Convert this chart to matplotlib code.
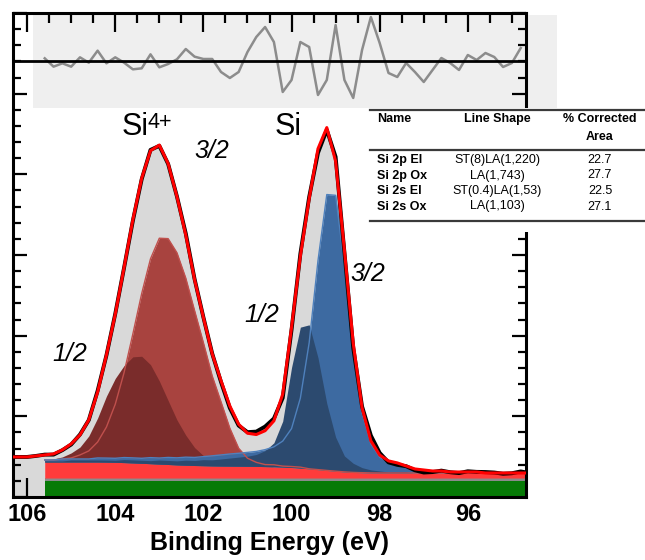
import numpy as np
import matplotlib
matplotlib.use('Agg')
import matplotlib.pyplot as plt
from matplotlib.patches import Rectangle
from matplotlib.lines import Line2D
from matplotlib.ticker import MultipleLocator

plt.rcParams['font.family'] = ['Liberation Sans', 'DejaVu Sans']

# binding energy grid (eV), 0.2 eV steps, high BE on the left
be = np.linspace(106.4, 94.6, 60)

# Shirley background (CPS)
background = np.array([868] * 11 + [865, 860, 853, 845, 835, 826, 816, 806, 796, 788,
                                    781, 776, 771, 768, 766, 764, 761, 759, 754, 749,
                                    741, 731, 716, 699, 679, 659, 640, 622, 610, 603, 597]
                      + [595] * 18)

# fitted components above the background (CPS)
ox32 = np.array([25, 25, 25, 50, 50, 50, 75, 100, 175, 275, 495, 870, 1440, 2230, 3200,
                 4210, 5080, 5600, 5600, 5260, 4640, 3840, 3050, 2230, 1590, 940, 445,
                 200, 100, 50, 50, 25, 25, 25] + [0] * 26)
ox12 = np.array([25, 25, 25, 25, 50, 75, 125, 225, 370, 645, 1090, 1635, 2080, 2405, 2630,
                 2655, 2455, 2060, 1585, 1115, 745, 445, 250, 150, 75, 50, 50, 25, 25, 25]
                + [0] * 30)
el32 = np.array([50, 50, 50, 50, 50, 50, 75, 75, 75, 75, 100, 100, 100, 125, 125, 125, 150,
                 150, 175, 175, 200, 200, 225, 250, 275, 300, 320, 345, 370, 420, 495, 645,
                 965, 1735, 3125, 5180, 6840, 6840, 5105, 2975, 1485, 720, 395, 275, 225,
                 150, 100, 75, 50, 50, 25, 25, 25, 25, 0, 0, 0, 0, 0, 0])
el12 = np.array([25, 25, 25, 25, 25, 25, 25, 50, 50, 50, 50, 50, 50, 75, 75, 75, 75, 100,
                 100, 100, 125, 125, 150, 150, 175, 200, 225, 250, 295, 395, 595, 1140,
                 2480, 3495, 3570, 2775, 1660, 845, 395, 225, 125, 75, 50, 25, 25, 25]
                + [0] * 14)

# residual (data - fit) over the fitted region 105.6 .. 94.8 eV
residual = np.array([8, -17, -7, -17, 11, -5, 31, -7, 11, -5, -25, -22, 20, -19, -9,
                     5, 36, 13, 6, 6, -33, -51, -33, 27, 72, 102, 57, -93, -57, 57,
                     42, -102, -57, 108, -57, -111, 33, 132, 54, -36, -48, -6, -33, -63, -27,
                     9, -6, -27, 18, 3, 24, 12, -18, -6, 39])

names = ['Si 2p El', 'Si 2p Ox', 'Si 2s El', 'Si 2s Ox']
shapes = ['ST(8)LA(1,220)', 'LA(1,743)', 'ST(0.4)LA(1,53)', 'LA(1,103)']
areas = [22.7, 27.7, 22.5, 27.1]

fit = background + ox32 + ox12 + el32 + el12
counts = fit.astype(float)
counts[4:59] += residual
inside = be <= 105.61

W, H = 645, 560
fig = plt.figure(figsize=(W / 100, H / 100), dpi=100)
ax = fig.add_axes([13 / W, 63 / H, 513 / W, 484 / H])
ax.set_xlim(106.32, 94.68)
ax.set_ylim(0, 12000)

# envelope, offset bands and components
ax.fill_between(be, 0, counts, color='#d9d9d9', lw=0, zorder=1)
ax.fill_between(be, 0, 400, where=inside, color='#067a06', lw=0, zorder=2)
ax.fill_between(be, 400, 470, where=inside, color='#8a8a8a', lw=0, zorder=2)
ax.fill_between(be, 470, background, where=inside, color='#ff3b3b', lw=0, zorder=2)
for comp, face in [(ox32, '#a8433f'), (ox12, '#7a2c2b'), (el32, '#3d6aa1'), (el12, '#2c4a6f')]:
    ax.fill_between(be, background, background + comp, where=inside, color=face, lw=0, zorder=3)
ax.plot(be[inside], (background + ox32)[inside], color='#c0504d', lw=1, zorder=4)
ax.plot(be[inside], (background + el32)[inside], color='#4f81bd', lw=1, zorder=4)
ax.plot(be, counts, color='black', lw=2.8, zorder=5)
ax.plot(be, fit, color='red', lw=2.2, zorder=6)

# residual strip at the top
res_zero, res_gain = 10810, 8.26
ax.add_patch(Rectangle((0.039, 0.8037), 1.0214, 0.1922, transform=ax.transAxes,
                       facecolor='#efefef', edgecolor='none', clip_on=False, zorder=0.5))
ax.plot(be[4:59], res_zero + residual * res_gain, color='#8c8c8c', lw=1.8, zorder=5)
ax.axhline(res_zero, color='black', lw=2, zorder=5)

# peak labels
ax.text(103.85, 8974, 'Si', fontsize=22, ha='left', va='baseline', zorder=7)
ax.text(103.26, 9148, '4+', fontsize=15.5, ha='left', va='baseline', zorder=7)
ax.text(100.38, 8974, 'Si', fontsize=22, ha='left', va='baseline', zorder=7)
for x, y, s in [(105.03, 3545, '1/2'), (101.80, 8577, '3/2'),
                (100.67, 4512, '1/2'), (98.27, 5528, '3/2')]:
    ax.text(x, y, s, fontsize=18, style='italic', ha='center', va='center', zorder=7)

# axes styling
ax.xaxis.set_major_locator(MultipleLocator(2))
ax.xaxis.set_minor_locator(MultipleLocator(0.5))
ax.yaxis.set_major_locator(MultipleLocator(2000))
ax.yaxis.set_minor_locator(MultipleLocator(400))
ax.tick_params(which='both', direction='in', top=True, right=True, width=1.6, color='black')
ax.tick_params(axis='x', which='major', length=14, labelsize=17, pad=4)
ax.tick_params(axis='x', which='minor', length=7)
ax.tick_params(axis='y', which='major', length=10, labelleft=False)
ax.tick_params(axis='y', which='minor', length=5.5)
for lab in ax.get_xticklabels():
    lab.set_fontweight('bold')
for sp in ax.spines.values():
    sp.set_linewidth(2.2)
ax.set_xlabel('Binding Energy (eV)', fontsize=18, fontweight='bold', labelpad=4)

# quantification table
def fx(px):
    return px / W

def fy(py):
    return 1 - py / H

fig.add_artist(Rectangle((fx(368), fy(232)), fx(645 - 368), 124 / H, transform=fig.transFigure,
                         facecolor='white', edgecolor='none', zorder=2))
for py in (110, 150, 221):
    fig.add_artist(Line2D([fx(370), fx(645)], [fy(py), fy(py)], transform=fig.transFigure,
                          color='#3a3a3a', lw=1.6, zorder=3))
fig.text(fx(377), fy(119), 'Name', fontsize=9, fontweight='bold', ha='left', va='center')
fig.text(fx(497), fy(119), 'Line Shape', fontsize=9, fontweight='bold', ha='center', va='center')
fig.text(fx(600), fy(119), '% Corrected', fontsize=9, fontweight='bold', ha='center', va='center')
fig.text(fx(600), fy(137), 'Area', fontsize=9, fontweight='bold', ha='center', va='center')
for k, (nm, shp, ar) in enumerate(zip(names, shapes, areas)):
    py = 160 + 15.5 * k
    fig.text(fx(377), fy(py), nm, fontsize=9, fontweight='bold', ha='left', va='center')
    fig.text(fx(497), fy(py), shp, fontsize=9, ha='center', va='center')
    fig.text(fx(600), fy(py), f'{ar:.1f}', fontsize=9, ha='center', va='center')

fig.savefig('out.png', dpi=100)
